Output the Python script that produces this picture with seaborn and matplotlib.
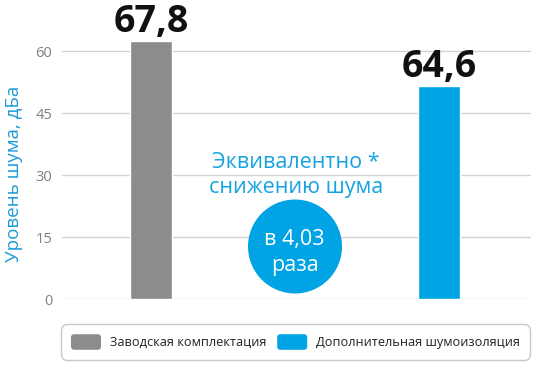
import matplotlib
matplotlib.use("Agg")
import matplotlib.pyplot as plt
import seaborn as sns
import pandas as pd
from matplotlib.patches import Ellipse, FancyBboxPatch, Patch
from matplotlib.legend_handler import HandlerPatch

# ---- data ----
categories = ["Заводская комплектация", "Дополнительная шумоизоляция"]
bar_heights = [62.5, 51.6]
value_labels = ["67,8", "64,6"]
colors = ["#8c8c8c", "#00a3e4"]
yticks = [0, 15, 30, 45, 60]
ylabel = "Уровень шума, дБа"
note_lines = ["Эквивалентно *", "снижению шума"]
circle_lines = ["в 4,03", "раза"]

sns.set_style("white")
plt.rcParams["font.family"] = ["Open Sans", "DejaVu Sans"]

W, H = 540, 380
fig = plt.figure(figsize=(W / 100, H / 100), dpi=100)

def fx(px):
    return px / W

def fy(py):
    return 1 - py / H

ax_left, ax_right = 62, 531
y0_px = 299.3
px_per_unit = (299.3 - 51.3) / 60
ymax = 66
ax = fig.add_axes([fx(ax_left), fy(y0_px), (ax_right - ax_left) / W, ymax * px_per_unit / H])

df = pd.DataFrame({"cat": categories, "val": bar_heights})
sns.barplot(data=df, x="cat", y="val", hue="cat", palette=colors, width=0.146,
            legend=False, ax=ax, saturation=1, zorder=3)
ax.set_xlim(-0.311, 1.32)
ax.set_ylim(0, ymax)
ax.set_yticks(yticks)
ax.set_yticklabels([str(t) for t in yticks], color="#808080", fontsize=10.5)
ax.tick_params(axis="y", length=0, pad=7)
ax.set_xticks([])
ax.set_xlabel("")
ax.set_ylabel(ylabel, color="#1b9ad8", fontsize=13.5)
ax.yaxis.set_label_coords((23 - ax_left) / (ax_right - ax_left), (y0_px - 174) / (ymax * px_per_unit))
for s in ax.spines.values():
    s.set_visible(False)
ax.grid(False)
for t in yticks:
    ax.axhline(t, color="#d3d3d3", lw=1, zorder=1)

for i, (h, lab) in enumerate(zip(bar_heights, value_labels)):
    ax.annotate(lab, (i, h), xytext=(0, 6.5), textcoords="offset points",
                ha="center", va="baseline", fontsize=27, fontweight="bold",
                color="#111111", annotation_clip=False)

# middle annotation
blue_text = "#16a3e2"
fig.text(fx(296), fy(167.5), note_lines[0], ha="center", va="baseline",
         fontsize=15.5, color=blue_text)
fig.text(fx(296), fy(193.3), note_lines[1], ha="center", va="baseline",
         fontsize=15.5, color=blue_text)

r = 47
ell = Ellipse((fx(295), fy(246.5)), 2 * r / W, 2 * r / H, transform=fig.transFigure,
              facecolor="#00a3e4", edgecolor="none", zorder=5)
fig.add_artist(ell)
fig.text(fx(294), fy(245), circle_lines[0], ha="center", va="baseline",
         fontsize=15.5, color="white", zorder=6)
fig.text(fx(295), fy(271), circle_lines[1], ha="center", va="baseline",
         fontsize=15.5, color="white", zorder=6)


class RoundHandler(HandlerPatch):
    def create_artists(self, legend, orig_handle, xdescent, ydescent, width,
                       height, fontsize, trans):
        p = FancyBboxPatch((-xdescent, -ydescent), width, height,
                           boxstyle=f"round,pad=0,rounding_size={height * 0.22}",
                           facecolor=orig_handle.get_facecolor(), edgecolor="none",
                           transform=trans)
        return [p]


handles = [Patch(facecolor=c) for c in colors]
leg = fig.legend(handles, categories, loc="center",
                 bbox_to_anchor=(fx(295.5), fy(342)), ncol=2, fontsize=9.2,
                 handlelength=2.35, handleheight=1.5, handletextpad=0.7,
                 columnspacing=0.85, borderpad=0.78, frameon=True, fancybox=True,
                 handler_map={Patch: RoundHandler()})
frame = leg.get_frame()
frame.set_edgecolor("#bbbbbb")
frame.set_linewidth(1)
frame.set_boxstyle("round,pad=0,rounding_size=0.5")
for t in leg.get_texts():
    t.set_color("#222222")

fig.savefig("out.png", dpi=100)
